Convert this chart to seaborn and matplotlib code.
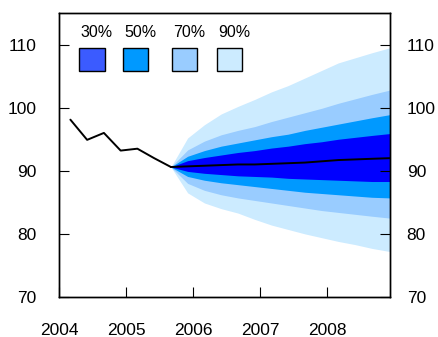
import numpy as np
import pandas as pd
import matplotlib
matplotlib.use('Agg')
import matplotlib.pyplot as plt
import seaborn as sns
from matplotlib.patches import Rectangle

# history (quarterly)
hist_x = [2004.17, 2004.42, 2004.67, 2004.92, 2005.17, 2005.42, 2005.67]
hist_y = [98.1, 94.9, 96.0, 93.2, 93.5, 92.0, 90.6]

# projection (quarterly)
fc_x = [2005.67, 2005.92, 2006.17, 2006.42, 2006.67, 2006.92, 2007.17,
        2007.42, 2007.67, 2007.92, 2008.17, 2008.42, 2008.67, 2008.94]
center = [90.6, 90.7, 90.8, 90.9, 91.0, 91.0, 91.1, 91.2, 91.3, 91.5, 91.7, 91.8, 91.9, 92.0]
up90 = [90.6, 95.2, 97.3, 99.0, 100.2, 101.3, 102.5, 103.5, 104.7, 105.9, 107.1, 107.9, 108.7, 109.5]
lo90 = [90.6, 86.5, 84.9, 84.0, 83.3, 82.3, 81.4, 80.7, 80.0, 79.4, 78.8, 78.3, 77.7, 77.2]
up70 = [90.6, 93.3, 94.7, 95.7, 96.4, 97.0, 97.8, 98.5, 99.2, 99.9, 100.7, 101.4, 102.1, 102.8]
lo70 = [90.6, 88.0, 86.9, 86.2, 85.7, 85.3, 84.9, 84.5, 84.1, 83.7, 83.4, 83.1, 82.8, 82.5]
up50 = [90.6, 92.3, 93.2, 93.9, 94.4, 94.9, 95.4, 95.8, 96.4, 96.9, 97.4, 97.9, 98.4, 98.9]
lo50 = [90.6, 89.1, 88.5, 88.1, 87.8, 87.5, 87.2, 86.9, 86.6, 86.4, 86.2, 86.0, 85.8, 85.7]
up30 = [90.6, 91.6, 92.1, 92.5, 92.9, 93.2, 93.6, 93.9, 94.3, 94.6, 95.0, 95.3, 95.6, 95.9]
lo30 = [90.6, 89.9, 89.6, 89.4, 89.2, 89.1, 89.0, 88.8, 88.7, 88.6, 88.5, 88.4, 88.3, 88.3]

band_labels = ['30%', '50%', '70%', '90%']
band_colors = ['#0000FF', '#0099FF', '#99CCFF', '#CCEBFF']
legend_colors = ['#3B5BFF', '#0099FF', '#99CCFF', '#CCEBFF']
year_ticks = [2004, 2005, 2006, 2007, 2008]
y_ticks = [70, 80, 90, 100, 110]

sns.set_style('white')
plt.rcParams['font.family'] = ['Liberation Sans', 'DejaVu Sans']
plt.rcParams['text.color'] = 'black'
plt.rcParams['xtick.color'] = 'black'
plt.rcParams['ytick.color'] = 'black'

fig = plt.figure(figsize=(4.38, 3.37), dpi=100)
ax = fig.add_axes([0.1347, 0.1187, 0.7557, 0.8427])

bands = [(up90, lo90), (up70, lo70), (up50, lo50), (up30, lo30)]
for (up, lo), c in zip(bands, band_colors[::-1]):
    ax.fill_between(fc_x, lo, up, color=c, lw=0)

hist = pd.DataFrame({'x': hist_x, 'y': hist_y})
fc = pd.DataFrame({'x': fc_x, 'y': center})
sns.lineplot(data=hist, x='x', y='y', color='black', lw=1.4, ax=ax)
sns.lineplot(data=fc, x='x', y='y', color='black', lw=1.4, ax=ax)

ax.set_xlim(2004, 2008.94)
ax.set_ylim(70, 115)
ax.set_xticks(year_ticks)
ax.set_xticklabels([str(y) for y in year_ticks])
ax.set_yticks(y_ticks)
ax.set_xlabel('')
ax.set_ylabel('')
for s in ax.spines.values():
    s.set_color('black')
    s.set_linewidth(1.0)
ax.tick_params(axis='x', direction='in', length=7, width=0.8, pad=18.5, labelsize=12.5,
               bottom=True, top=False)
ax.tick_params(axis='y', direction='in', length=7, width=0.8, pad=16, labelsize=12.5,
               left=True, right=False)

# right-hand axis with the same scale
ax2 = ax.twinx()
ax2.set_ylim(ax.get_ylim())
ax2.set_yticks(y_ticks)
ax2.tick_params(axis='y', direction='in', length=7, width=0.8, pad=12, labelsize=12.5,
                right=True, labelright=True)
for s in ax2.spines.values():
    s.set_color('black')
    s.set_linewidth(1.0)

# legend: labels above boxes
box_x = [0.061, 0.193, 0.341, 0.476]
for bx, lab, c in zip(box_x, band_labels, legend_colors):
    ax.add_patch(Rectangle((bx, 0.795), 0.077, 0.081, transform=ax.transAxes,
                           facecolor=c, edgecolor='black', lw=1.0, zorder=5))
    ax.text(bx + 0.004, 0.905, lab, transform=ax.transAxes, ha='left',
            va='bottom', fontsize=11.5)

fig.savefig('out.png', dpi=100)
